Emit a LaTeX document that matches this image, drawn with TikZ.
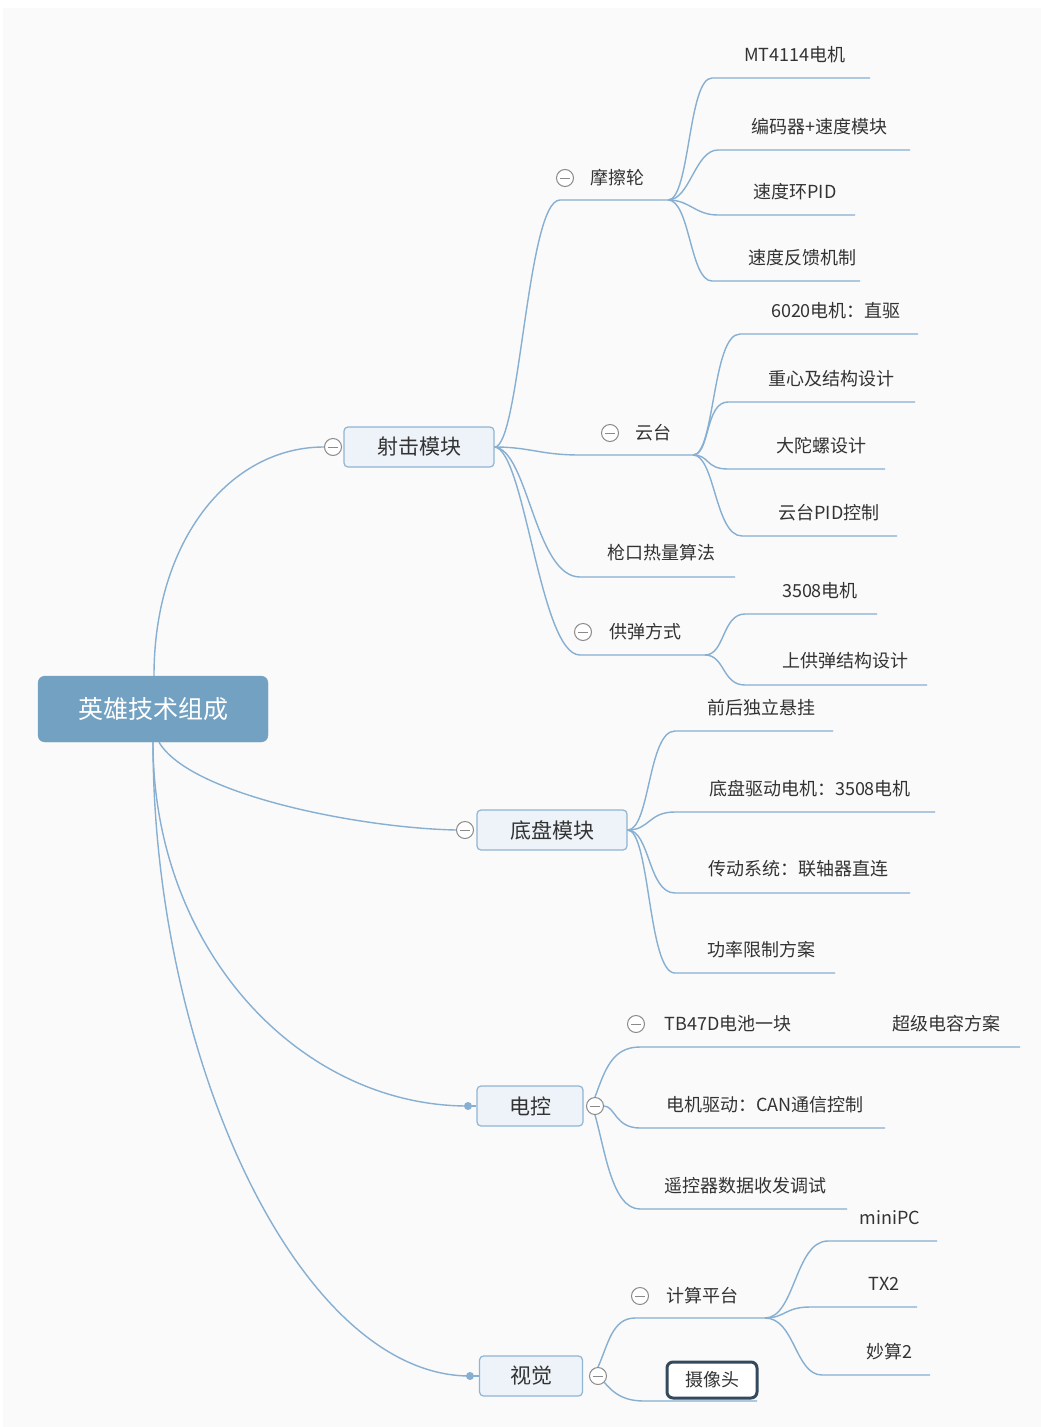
\documentclass[tikz,border=0pt]{standalone}
\usepackage{fontspec}
\setmainfont{Noto Sans CJK SC}
\definecolor{bgc}{HTML}{FAFAFA}
\definecolor{lc}{HTML}{86AFD2}
\definecolor{rootc}{HTML}{72A1C2}
\definecolor{nodefill}{HTML}{EDF3F8}
\definecolor{nodeedge}{HTML}{8FB5D3}
\definecolor{txt}{HTML}{333333}
\definecolor{colc}{HTML}{8A8A8A}
\definecolor{camc}{HTML}{33495C}
\begin{document}
\begin{tikzpicture}[x=1pt,y=-1pt,
  br/.style={draw=lc, line width=1.4},
  rootbox/.style={rectangle, rounded corners=7, fill=rootc, draw=rootc, text=white, minimum width=230, minimum height=66, font=\fontsize{25}{28}\selectfont},
  mainbox/.style={rectangle, rounded corners=4, fill=nodefill, draw=nodeedge, line width=1.2, text=txt, minimum height=40, font=\fontsize{21}{24}\selectfont},
  leaf/.style={text=txt, inner sep=0, font=\fontsize{18}{20}\selectfont},
  colmark/.style={circle, draw=colc, fill=white, line width=1, minimum size=17, inner sep=0,
    path picture={\draw[colc, line width=1] ([xshift=-5]path picture bounding box.center) -- ([xshift=5]path picture bounding box.center);}},
  dotmark/.style={circle, fill=lc, inner sep=0, minimum size=8}
]
\useasboundingbox (0,0) rectangle (1041,1427);
\fill[white] (0,0) rectangle (1041,1427);
\fill[bgc] (3,8) rectangle (1041,1427);

% ---------- nodes ----------
\node[rootbox] (root) at (153,709) {英雄技术组成};

\node[mainbox, minimum width=150] (shoot) at (419,447) {射击模块};
\node[colmark] (cshoot) at (333,447) {};
\node[mainbox, minimum width=150] (chassis) at (552,830) {底盘模块};
\node[colmark] (cchassis) at (465,830) {};
\node[mainbox, minimum width=106] (elec) at (530,1106) {电控};
\node[dotmark] (delec) at (468,1106) {};
\node[colmark] (celec) at (595,1106) {};
\node[mainbox, minimum width=103] (vision) at (531,1376) {视觉};
\node[dotmark] (dvision) at (470,1376) {};
\node[colmark] (cvision) at (598,1376) {};

% 射击模块 children
\node[colmark] (cfric) at (565,178) {};
\node[leaf] (fric) at (617,178) {摩擦轮};
\coordinate (fricA) at (560,200); \coordinate (fricB) at (668,200);
\node[colmark] (cgimb) at (610,433) {};
\node[leaf] (gimb) at (653,433) {云台};
\coordinate (gimbA) at (580,455); \coordinate (gimbB) at (693,455);
\node[leaf] (heat) at (661,553) {枪口热量算法};
\coordinate (heatA) at (580,577); \coordinate (heatB) at (735,577);
\node[colmark] (cfeed) at (583,632) {};
\node[leaf] (feed) at (645,632) {供弹方式};
\coordinate (feedA) at (580,655); \coordinate (feedB) at (705,655);

% 摩擦轮 children
\node[leaf] (mt) at (795,55) {MT4114电机};
\coordinate (mtA) at (712,78); \coordinate (mtB) at (870,78);
\node[leaf] (enc) at (819,127) {编码器+速度模块};
\coordinate (encA) at (718,150); \coordinate (encB) at (910,150);
\node[leaf] (spid) at (795,192) {速度环PID};
\coordinate (spidA) at (718,215); \coordinate (spidB) at (855,215);
\node[leaf] (sfb) at (802,258) {速度反馈机制};
\coordinate (sfbA) at (712,281); \coordinate (sfbB) at (860,281);

% 云台 children
\node[leaf] (m6020) at (836,311) {6020电机：直驱};
\coordinate (m6020A) at (740,334); \coordinate (m6020B) at (918,334);
\node[leaf] (cog) at (831,379) {重心及结构设计};
\coordinate (cogA) at (728,402); \coordinate (cogB) at (915,402);
\node[leaf] (gyro) at (821,446) {大陀螺设计};
\coordinate (gyroA) at (728,469); \coordinate (gyroB) at (885,469);
\node[leaf] (gpid) at (829,513) {云台PID控制};
\coordinate (gpidA) at (742,536); \coordinate (gpidB) at (897,536);

% 供弹方式 children
\node[leaf] (m3508) at (820,591) {3508电机};
\coordinate (m3508A) at (745,614); \coordinate (m3508B) at (877,614);
\node[leaf] (upfeed) at (845,661) {上供弹结构设计};
\coordinate (upfeedA) at (745,685); \coordinate (upfeedB) at (927,685);

% 底盘模块 children
\node[leaf] (susp) at (761,708) {前后独立悬挂};
\coordinate (suspA) at (675,731); \coordinate (suspB) at (833,731);
\node[leaf] (drive) at (810,789) {底盘驱动电机：3508电机};
\coordinate (driveA) at (675,812); \coordinate (driveB) at (935,812);
\node[leaf] (trans) at (798,869) {传动系统：联轴器直连};
\coordinate (transA) at (675,893); \coordinate (transB) at (910,893);
\node[leaf] (power) at (761,950) {功率限制方案};
\coordinate (powerA) at (675,973); \coordinate (powerB) at (835,973);

% 电控 children
\node[colmark] (cbat) at (636,1024) {};
\node[leaf] (bat) at (728,1024) {TB47D电池一块};
\node[leaf] (cap) at (946,1024) {超级电容方案};
\coordinate (batA) at (640,1047); \coordinate (batB) at (1020,1047);
\node[leaf] (can) at (765,1105) {电机驱动：CAN通信控制};
\coordinate (canA) at (640,1128); \coordinate (canB) at (885,1128);
\node[leaf] (rc) at (745,1186) {遥控器数据收发调试};
\coordinate (rcA) at (640,1209); \coordinate (rcB) at (847,1209);

% 视觉 children
\node[colmark] (ccomp) at (640,1296) {};
\node[leaf] (comp) at (702,1296) {计算平台};
\coordinate (compA) at (635,1318); \coordinate (compB) at (765,1318);
\node[rectangle, rounded corners=6, draw=camc, line width=3, fill=white, text=txt, minimum width=90, minimum height=36, inner sep=0, font=\fontsize{18}{20}\selectfont] (cam) at (712,1380) {摄像头};
\coordinate (camA) at (645,1401); \coordinate (camB) at (757,1401);

\node[leaf] (mini) at (890,1218) {miniPC};
\coordinate (miniA) at (828,1241); \coordinate (miniB) at (937,1241);
\node[leaf] (tx2) at (884,1284) {TX2};
\coordinate (tx2A) at (810,1307); \coordinate (tx2B) at (917,1307);
\node[leaf] (ms2) at (889,1352) {妙算2};
\coordinate (ms2A) at (822,1375); \coordinate (ms2B) at (930,1375);

% ---------- connectors ----------
% root
\draw[br] ([xshift=1]root.north) .. controls (154,540) and (230,447) .. (cshoot.west);
\draw[br] ([xshift=6]root.south) .. controls (190,795) and (360,828) .. (cchassis.west);
\draw[br] (root.south) .. controls (153,950) and (300,1106) .. (delec.center);
\draw[br] (root.south) .. controls (153,1060) and (300,1376) .. (dvision.center);
\draw[br] (delec) -- (elec.west);
\draw[br] (dvision) -- (vision.west);

% 射击模块
\draw[br] (shoot.east) .. controls (520,447) and (527,200) .. (fricA) -- (fricB);
\draw[br] (shoot.east) .. controls (530,447) and (540,455) .. (gimbA) -- (gimbB);
\draw[br] (shoot.east) .. controls (528,450) and (535,577) .. (heatA) -- (heatB);
\draw[br] (shoot.east) .. controls (525,450) and (540,655) .. (feedA) -- (feedB);

% 摩擦轮
\draw[br] (fricB) .. controls (690,200) and (688,78) .. (mtA) -- (mtB);
\draw[br] (fricB) .. controls (690,200) and (695,150) .. (encA) -- (encB);
\draw[br] (fricB) .. controls (690,200) and (695,215) .. (spidA) -- (spidB);
\draw[br] (fricB) .. controls (690,200) and (690,281) .. (sfbA) -- (sfbB);

% 云台
\draw[br] (gimbB) .. controls (715,455) and (712,334) .. (m6020A) -- (m6020B);
\draw[br] (gimbB) .. controls (710,455) and (705,402) .. (cogA) -- (cogB);
\draw[br] (gimbB) .. controls (710,455) and (705,469) .. (gyroA) -- (gyroB);
\draw[br] (gimbB) .. controls (715,455) and (715,536) .. (gpidA) -- (gpidB);

% 供弹方式
\draw[br] (feedB) .. controls (725,655) and (722,614) .. (m3508A) -- (m3508B);
\draw[br] (feedB) .. controls (725,655) and (722,685) .. (upfeedA) -- (upfeedB);

% 底盘模块
\draw[br] (chassis.east) .. controls (650,830) and (648,731) .. (suspA) -- (suspB);
\draw[br] (chassis.east) .. controls (650,830) and (648,812) .. (driveA) -- (driveB);
\draw[br] (chassis.east) .. controls (650,830) and (648,893) .. (transA) -- (transB);
\draw[br] (chassis.east) .. controls (650,830) and (648,973) .. (powerA) -- (powerB);

% 电控
\draw[br] (celec.north) .. controls (605,1070) and (612,1047) .. (batA) -- (batB);
\draw[br] (celec.east) .. controls (615,1106) and (615,1128) .. (canA) -- (canB);
\draw[br] (celec.south) .. controls (605,1150) and (612,1209) .. (rcA) -- (rcB);

% 视觉
\draw[br] (cvision.north) .. controls (608,1345) and (612,1318) .. (compA) -- (compB);
\draw[br] (cvision.south east) .. controls (615,1395) and (625,1401) .. (camA) -- (camB);

% 计算平台
\draw[br] (compB) .. controls (795,1318) and (795,1241) .. (miniA) -- (miniB);
\draw[br] (compB) .. controls (785,1318) and (785,1307) .. (tx2A) -- (tx2B);
\draw[br] (compB) .. controls (795,1318) and (795,1375) .. (ms2A) -- (ms2B);
\end{tikzpicture}
\end{document}
